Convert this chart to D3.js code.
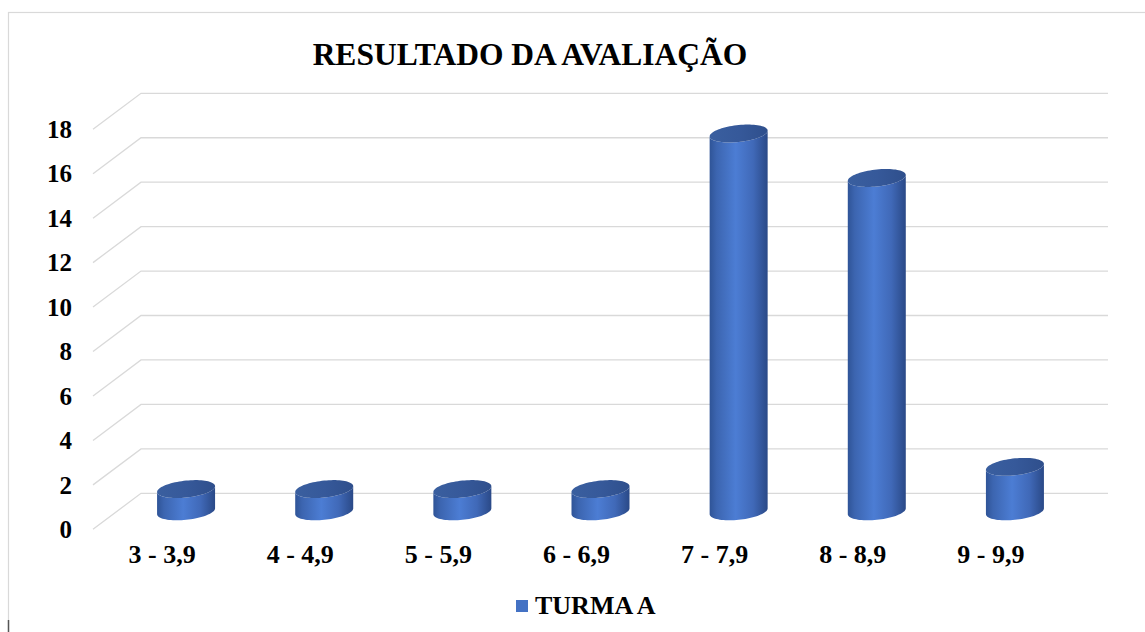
<!DOCTYPE html>
<html>
<head>
<meta charset="utf-8">
<script src="https://cdn.jsdelivr.net/npm/d3@7"></script>
<style>
  html, body { margin: 0; padding: 0; background: #fff; }
  svg { display: block; }
  text { font-family: "Liberation Serif", "Times New Roman", serif; font-weight: bold; fill: #000; }
</style>
</head>
<body>
<svg id="chart" width="1145" height="632"></svg>
<script>
// Grade ranges and number of students in each range
const categories = ["3 - 3,9", "4 - 4,9", "5 - 5,9", "6 - 6,9", "7 - 7,9", "8 - 8,9", "9 - 9,9"];
const values = [1, 1, 1, 1, 17, 15, 2];
const yTicks = [0, 2, 4, 6, 8, 10, 12, 14, 16, 18];
const seriesName = "TURMA A";
const chartTitle = "RESULTADO DA AVALIAÇÃO";

const svg = d3.select("#chart");
const W = 1145, H = 632;

// outer chart frame
svg.append("rect")
  .attr("x", 8.5).attr("y", 12.5)
  .attr("width", W + 20).attr("height", H + 20)
  .attr("fill", "#fff").attr("stroke", "#d9d9d9").attr("stroke-width", 1.2);
svg.append("line")
  .attr("x1", 8.5).attr("x2", 8.5).attr("y1", 620).attr("y2", 632)
  .attr("stroke", "#555").attr("stroke-width", 1.5);

// 3D geometry: back wall, with a depth offset toward the front
const depthX = 48, depthY = 36;
const yBack = d3.scaleLinear().domain([0, 18]).range([493.3, 93.3]);
const xFront = d3.scaleBand().domain(categories).range([93, 1060]).padding(0);
const backRight = 1108;

const grid = svg.append("g").attr("stroke", "#d9d9d9").attr("stroke-width", 1.3).attr("fill", "none");
yTicks.forEach(t => {
  const yb = yBack(t);
  grid.append("path")
    .attr("d", `M${93},${yb + depthY} L${93 + depthX},${yb} L${backRight},${yb}`);
});

// y-axis labels at the front edge
svg.append("g").selectAll("text").data(yTicks).join("text")
  .attr("x", 72)
  .attr("y", d => yBack(d) + depthY)
  .attr("dy", "0.35em")
  .attr("text-anchor", "end")
  .attr("font-size", 25)
  .text(d => d);

// category labels below the floor
svg.append("g").selectAll("text").data(categories).join("text")
  .attr("x", d => xFront(d) + xFront.bandwidth() / 2)
  .attr("y", 563)
  .attr("text-anchor", "middle")
  .attr("font-size", 26)
  .text(d => d);

// cylinder gradients
const defs = svg.append("defs");
const body = defs.append("linearGradient").attr("id", "cylBody")
  .attr("x1", "0%").attr("x2", "100%").attr("y1", "0%").attr("y2", "0%");
[["0%", "#2f5497"], ["12%", "#3c65b0"], ["45%", "#4c7dd4"], ["75%", "#4069b8"], ["100%", "#2a4987"]]
  .forEach(([o, c]) => body.append("stop").attr("offset", o).attr("stop-color", c));
const cap = defs.append("linearGradient").attr("id", "cylCap")
  .attr("x1", "0%").attr("x2", "100%").attr("y1", "0%").attr("y2", "0%");
[["0%", "#3a5f9f"], ["50%", "#36599a"], ["100%", "#2f4f8c"]]
  .forEach(([o, c]) => cap.append("stop").attr("offset", o).attr("stop-color", c));

// cylinders stand at mid depth
const rx = 29, ry = 8.5, skew = 0.1;
const line = d3.line();
function ellipsePts(cx, cy, t0, t1, n) {
  const pts = [];
  for (let i = 0; i <= n; i++) {
    const t = t0 + (t1 - t0) * i / n;
    const ex = rx * Math.cos(t);
    pts.push([cx + ex, cy + ry * Math.sin(t) - skew * ex]);
  }
  return pts;
}

const bars = svg.append("g").selectAll("g").data(categories.map((c, i) => ({ c, v: values[i] }))).join("g");
bars.each(function (d) {
  const g = d3.select(this);
  const cx = xFront(d.c) + xFront.bandwidth() / 2 + depthX / 2;
  const yTop = yBack(d.v) + depthY / 2;
  const yBot = yBack(0) + depthY / 2;
  // side wall: left edge down, lower front arc of the base, right edge up, top back
  const pts = [[cx - rx, yTop + skew * rx]]
    .concat(ellipsePts(cx, yBot, Math.PI, 0, 40))
    .concat([[cx + rx, yTop - skew * rx]])
    .concat(ellipsePts(cx, yTop, 0, Math.PI, 40));
  g.append("path").attr("d", line(pts) + "Z").attr("fill", "url(#cylBody)");
  // top cap
  g.append("path").attr("d", line(ellipsePts(cx, yTop, 0, 2 * Math.PI, 80)) + "Z")
    .attr("fill", "url(#cylCap)");
});

// title
svg.append("text")
  .attr("x", 530).attr("y", 65)
  .attr("text-anchor", "middle")
  .attr("font-size", 31.5)
  .text(chartTitle);

// legend
svg.append("rect").attr("x", 516).attr("y", 600).attr("width", 12).attr("height", 12).attr("fill", "#4472c4");
svg.append("text").attr("x", 535).attr("y", 614).attr("font-size", 26).text(seriesName);
</script>
</body>
</html>
